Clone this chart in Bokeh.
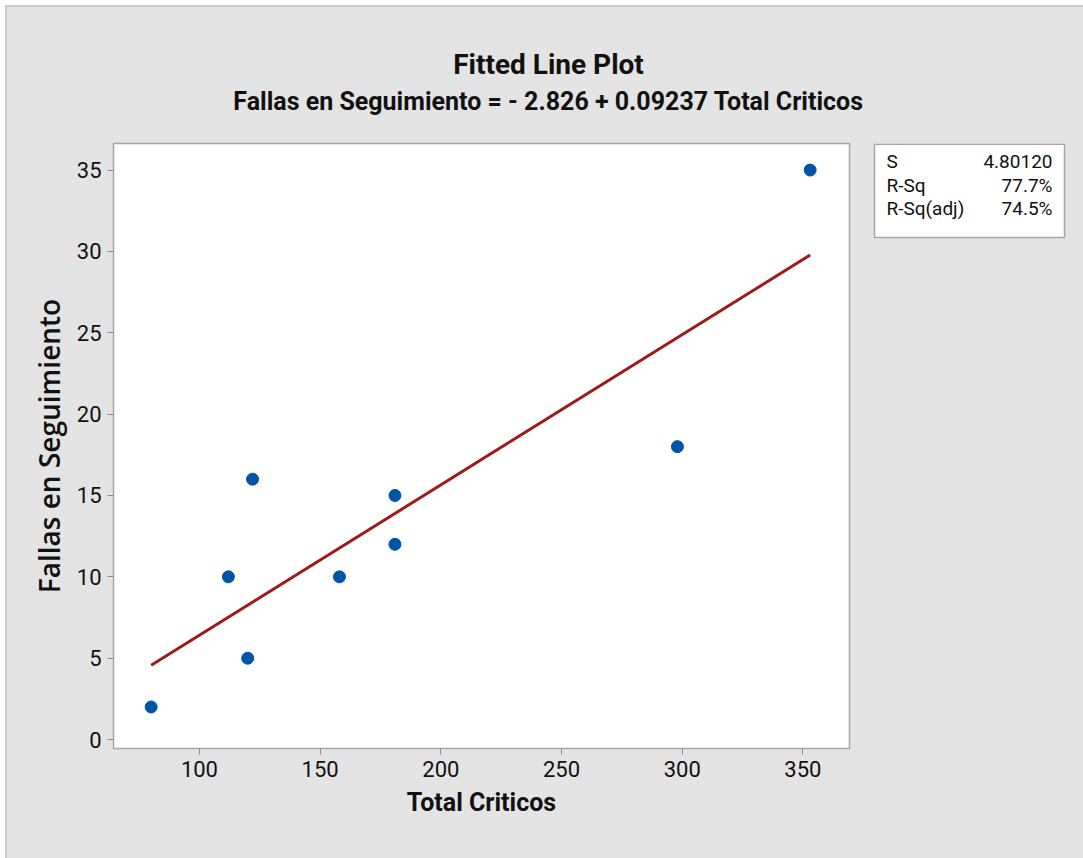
from bokeh.plotting import figure
from bokeh.models import Label, Range1d, FixedTicker
from bokeh.layouts import column, row
from bokeh.embed import file_html
from bokeh.resources import INLINE

# ---- data ----
total_criticos = [80, 112, 120, 122, 158, 181, 181, 298, 353]
fallas_seguimiento = [2, 10, 5, 16, 10, 15, 12, 18, 35]
intercept = -2.826
slope = 0.09237
x_ticks = [100, 150, 200, 250, 300, 350]
y_ticks = [0, 5, 10, 15, 20, 25, 30, 35]
stat_names = ["S", "R-Sq", "R-Sq(adj)"]
stat_values = ["4.80120", "77.7%", "74.5%"]
title_text = "Fitted Line Plot"
subtitle_text = "Fallas en Seguimiento = - 2.826 + 0.09237 Total Criticos"

HFONT = "Roboto"
YFONT = "Open Sans SemiBold, Open Sans"
BG = "#e4e4e4"
TXT = "#111111"


def blank(w, h, yspan=None):
    f = figure(width=w, height=h, output_backend="svg", toolbar_location=None,
               x_range=Range1d(0, w), y_range=Range1d(yspan or h, 0),
               x_axis_type=None, y_axis_type=None, min_border=0)
    f.background_fill_color = BG
    f.border_fill_color = BG
    f.outline_line_color = None
    f.grid.visible = False
    return f


# ---- title panel ----
tfig = blank(1076, 134)
tfig.add_layout(Label(x=541, y=57, text=title_text, text_align="center",
                      text_baseline="middle", text_font=HFONT, text_font_style="bold",
                      text_font_size="28px", text_color=TXT))
tfig.add_layout(Label(x=541, y=94, text=subtitle_text, text_align="center",
                      text_baseline="middle", text_font=HFONT, text_font_style="bold",
                      text_font_size="25px", text_color=TXT))

# ---- main plot ----
p = figure(width=844, height=717, output_backend="svg", toolbar_location=None,
           x_range=Range1d(64.4, 369.3), y_range=Range1d(-0.55, 36.63),
           min_border_left=106, min_border_right=2, min_border_top=2, min_border_bottom=110)
p.background_fill_color = "white"
p.border_fill_color = BG
p.outline_line_color = "#a6a6a6"
p.outline_line_width = 1.5
p.grid.visible = False

for ax in (p.xaxis[0], p.yaxis[0]):
    ax.axis_line_color = None
    ax.major_tick_line_color = "#8c8c8c"
    ax.major_tick_out = 6
    ax.major_tick_in = 0
    ax.minor_tick_line_color = None
    ax.major_label_text_font = HFONT
    ax.major_label_text_font_size = "22px"
    ax.major_label_text_color = TXT
    ax.axis_label_text_color = TXT
    ax.major_label_standoff = 6

p.xaxis.ticker = FixedTicker(ticks=x_ticks)
p.yaxis.ticker = FixedTicker(ticks=y_ticks)
p.xaxis.axis_label = "Total Criticos"
p.yaxis.axis_label = "Fallas en Seguimiento"
p.xaxis.axis_label_text_font = HFONT
p.xaxis.axis_label_text_font_style = "bold"
p.xaxis.axis_label_text_font_size = "25px"
p.yaxis.axis_label_text_font = YFONT
p.yaxis.axis_label_text_font_style = "normal"
p.yaxis.axis_label_text_font_size = "28px"
p.xaxis.axis_label_standoff = 8
p.yaxis.axis_label_standoff = 6

x0, x1 = min(total_criticos), max(total_criticos)
p.line([x0, x1], [intercept + slope * x0, intercept + slope * x1],
       line_color="#9e1b1b", line_width=3)
p.scatter(total_criticos, fallas_seguimiento, size=12, fill_color="#0054a6",
          line_color="#0054a6")

# ---- stats panel (its frame is aligned with the main frame: 605 px tall) ----
sfig = blank(232, 717, yspan=605)
sfig.quad(left=[23], right=[213], top=[0.8], bottom=[94], fill_color="white",
          line_color="#a6a6a6", line_width=1.5)
for i, (nm, vl) in enumerate(zip(stat_names, stat_values)):
    yy = 18 + i * 23.5
    sfig.add_layout(Label(x=35, y=yy, text=nm, text_align="left", text_baseline="middle",
                          text_font=HFONT, text_font_size="19px", text_color=TXT))
    sfig.add_layout(Label(x=201, y=yy, text=vl, text_align="right", text_baseline="middle",
                          text_font=HFONT, text_font_size="19px", text_color=TXT))

layout = column(tfig, row(p, sfig, spacing=0), spacing=0)
layout.margin = (5, 0, 0, 5)
layout.styles = {"background-color": BG, "border-top": "2px solid #cbcbcb",
                 "border-left": "2px solid #cbcbcb"}

open("out.html", "w").write(file_html(layout, INLINE))
